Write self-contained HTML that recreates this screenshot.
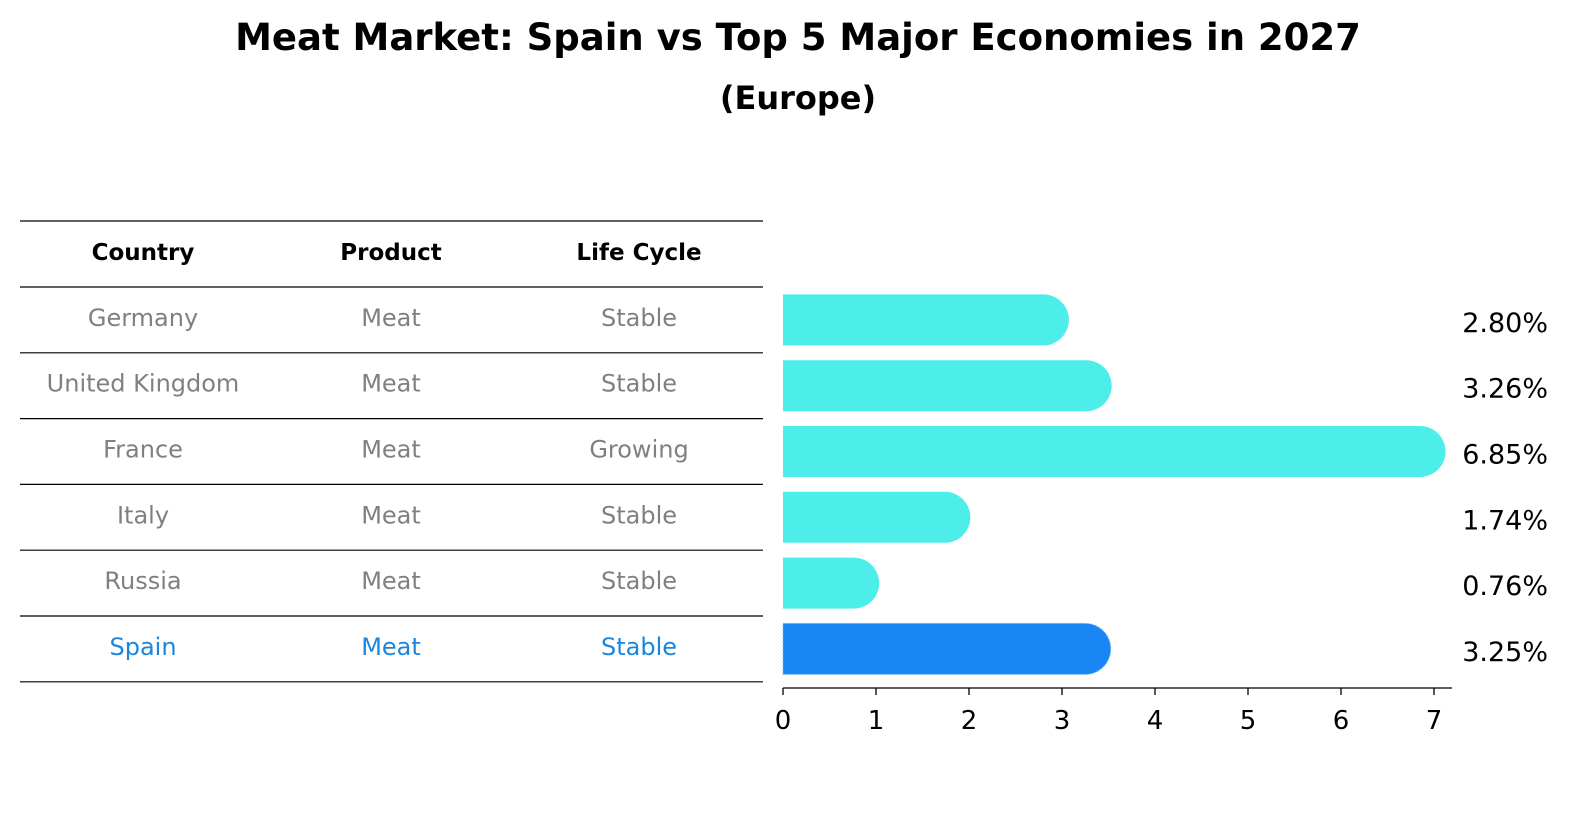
<!DOCTYPE html>
<html><head><meta charset="utf-8"><style>
html,body{margin:0;padding:0;background:#fff;overflow:hidden;width:1586px;height:823px;}
svg{display:block;}
svg text{font-family:"DejaVu Sans","Liberation Sans",sans-serif;}
</style></head><body>
<svg id="chart" width="1586" height="823" xmlns="http://www.w3.org/2000/svg">
<text x="798" y="50" text-anchor="middle" font-size="37" font-weight="bold">Meat Market: Spain vs Top 5 Major Economies in 2027</text>
<text x="798" y="109" text-anchor="middle" font-size="32" font-weight="bold">(Europe)</text>
<g id="table"></g>
<g id="bars"></g>
<g id="axis"></g>
</svg>
<script>
const countries=["Germany","United Kingdom","France","Italy","Russia","Spain"];
const products=["Meat","Meat","Meat","Meat","Meat","Meat"];
const lifeCycles=["Stable","Stable","Growing","Stable","Stable","Stable"];
const growth=[2.80,3.26,6.85,1.74,0.76,3.25];
const tickValues=[0,1,2,3,4,5,6,7];

const NS="http://www.w3.org/2000/svg";
function mk(tag,attrs,parent,txt){const e=document.createElementNS(NS,tag);for(const k in attrs)e.setAttribute(k,attrs[k]);if(txt!==undefined)e.textContent=txt;parent.appendChild(e);return e;}
const x0=783,pxPerUnit=93;
const xs=v=>x0+v*pxPerUnit;
const rowTop=287,rowH=65.8;
const yc=i=>rowTop+rowH*(i+0.5);

const table=document.getElementById('table');
const colX=[143,391,639];
const headers=["Country","Product","Life Cycle"];
headers.forEach((h,j)=>{const t=mk('text',{x:colX[j],y:260,'text-anchor':'middle','font-size':'23','font-weight':'bold'},table,h);

});
const lineYs=[221];for(let i=0;i<=countries.length;i++)lineYs.push(rowTop+rowH*i);
lineYs.forEach((y,i)=>{const l=mk('line',{x1:20,x2:763,y1:y,y2:y,stroke:'#000','stroke-width':1.2},table);

});
countries.forEach((c,i)=>{
  const col=c==="Spain"?"#1a86e0":"#808080";
  [c,products[i],lifeCycles[i]].forEach((v,j)=>{
    const t=mk('text',{x:colX[j],y:yc(i)+6,'text-anchor':'middle','font-size':'24',fill:col},table,v);
    
    
  });
});

const bars=document.getElementById('bars');
const bh=51,r=25.5;
growth.forEach((v,i)=>{
  const top=yc(i)-bh/2, xe=xs(v);
  const col=countries[i]==="Spain"?"#1a86f5":"#4deee9";
  const d=`M${x0},${top} H${xe} A${r},${r} 0 0 1 ${xe},${top+bh} H${x0} Z`;
  const p=mk('path',{d:d,fill:col},bars);
  if(countries[i]==="Spain"){p.setAttribute('stroke','#6ab8ff');p.setAttribute('stroke-dasharray','2 2');p.setAttribute('stroke-width','1');}
  
  
  const t=mk('text',{x:1548,y:yc(i)+12,'text-anchor':'end','font-size':'27'},bars,v.toFixed(2)+'%');
  
  
});

const axis=document.getElementById('axis');
const al=mk('line',{x1:x0,x2:1452,y1:688,y2:688,stroke:'#000','stroke-width':1.3},axis);


tickValues.forEach(v=>{
  const tl=mk('line',{x1:xs(v),x2:xs(v),y1:688,y2:695,stroke:'#000','stroke-width':1.3},axis);
  
  
  const t=mk('text',{x:xs(v),y:729,'text-anchor':'middle','font-size':'26'},axis,String(v));
  
  
});
</script>
</body></html>
